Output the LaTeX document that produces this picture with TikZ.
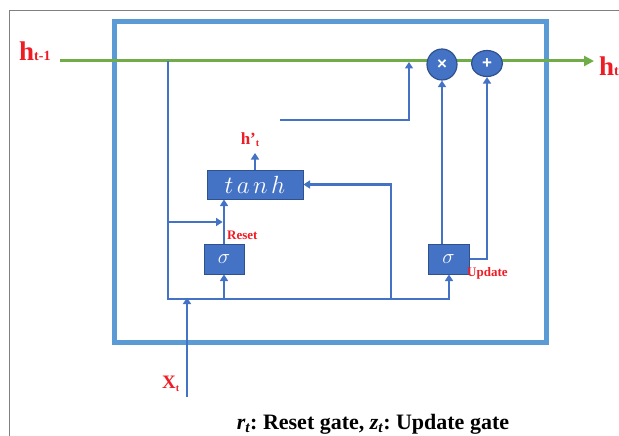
\documentclass[tikz,border=0pt]{standalone}
\usepackage{fontspec}
\setmainfont{Liberation Serif}
\newfontfamily\opfont{Liberation Sans}
\usetikzlibrary{arrows.meta,shapes.geometric}
\definecolor{frameblue}{HTML}{5B9BD5}
\definecolor{linkblue}{HTML}{4472C4}
\definecolor{boxblue}{HTML}{4472C4}
\definecolor{boxedge}{HTML}{2F528F}
\definecolor{hgreen}{HTML}{70AD47}
\definecolor{lblred}{HTML}{EE1C25}
\frenchspacing
\begin{document}
\begin{tikzpicture}[x=1pt,y=-1pt,
  link/.style={draw=linkblue, line width=2.8pt},
  arr/.style={link, -{Triangle[width=8pt,length=6.5pt]}},
  gatebox/.style={draw=boxedge, line width=1pt, fill=boxblue, text=white, inner sep=0pt},
  opcirc/.style={ellipse, draw=boxedge, line width=1.2pt, fill=boxblue, text=white, inner sep=0pt, font=\opfont\bfseries\fontsize{17}{17}\selectfont},
  lbl/.style={text=lblred, inner sep=0pt}]
\useasboundingbox (0,0) rectangle (619,436);
% outer grey page frame
\draw[gray, line width=1pt] (9,436) -- (9,11) -- (619,11);
% cell frame
\draw[frameblue, line width=5pt] (114,22) rectangle (546,342);

% labels of the state line
\node[lbl, anchor=base west, font=\bfseries\fontsize{27}{27}\selectfont] (hprev) at (19,61) {h{\fontsize{14}{14}\selectfont t-1}};
\node[lbl, anchor=base west, font=\bfseries\fontsize{27}{27}\selectfont] (ht) at (599,76) {h{\fontsize{14}{14}\selectfont t}};
\coordinate (gstart) at (60,61);
\coordinate (gend) at (594,61);
\draw[hgreen, line width=3pt, -{Triangle[width=10pt,length=10pt]}] (gstart) -- (gend);

% gates
\node[gatebox, minimum width=96pt, minimum height=29pt] (tanh) at (255,184.5)
  {\fontsize{23}{23}\selectfont$t\mkern2.5mu a\mkern2.5mu n\mkern2.5mu h$};
\node[gatebox, minimum width=40pt, minimum height=30pt] (sig1) at (224,259)
  {\fontsize{22}{22}\selectfont$\sigma$};
\node[gatebox, minimum width=41pt, minimum height=30pt] (sig2) at (448.5,259)
  {\fontsize{22}{22}\selectfont$\sigma$};

% labels
\node[lbl, font=\bfseries\fontsize{17}{17}\selectfont] (hp) at (250,140) {h\textquoteright{\fontsize{10}{10}\selectfont\raisebox{-2pt}{t}}};
\node[lbl, anchor=west, font=\bfseries\fontsize{13}{13}\selectfont] (rs) at (227,235) {Reset};
\node[lbl, anchor=west, font=\bfseries\fontsize{13}{13}\selectfont] (up) at (467,273) {Update};
\node[lbl, anchor=base west, font=\bfseries\fontsize{19}{19}\selectfont] (xt) at (162,388) {X{\fontsize{10}{10}\selectfont\raisebox{-3pt}{t}}};
\node[anchor=base, font=\bfseries\fontsize{22}{22}\selectfont] (cap) at (373,429)
  {\textit{r\textsubscript{t}}: Reset gate, \textit{z\textsubscript{t}}: Update gate};

% connectors
\coordinate (tap) at (168,61);
\coordinate (busL) at (168,299);
\coordinate (busR) at (449,299);
\draw[arr] (tap) -- (busL) -- (busR) -- (busR |- sig2.south);
\draw[arr] (sig1.south |- busL) -- (sig1.south);
\draw[arr] (sig1.north) -- (sig1.north |- tanh.south);
\coordinate (rin) at (168,222);
\draw[arr] (rin) -- ([xshift=-1.4pt]sig1.north |- rin);
\coordinate (cand) at (391,299);
\draw[arr] (cand) |- (tanh.east);
\draw[arr] (tanh.north) -- (tanh.north |- 0,153);
\coordinate (fb) at (280,120);
\coordinate (gjoin) at (409,62);
\draw[arr] (fb) -| (gjoin);
\coordinate (xin) at (187,397);
\draw[arr] (xin) -- ([yshift=1.4pt]xin |- busL);

% operators
\node[opcirc, minimum width=30pt, minimum height=31pt] (mul) at (442,64.5) {×};
\node[opcirc, minimum width=31pt, minimum height=26pt] (add) at (487,63.5) {+};
\draw[arr] (mul.south |- sig2.north) -- (mul.south);
\draw[arr] (sig2.east) -| (add.south);
\end{tikzpicture}
\end{document}
